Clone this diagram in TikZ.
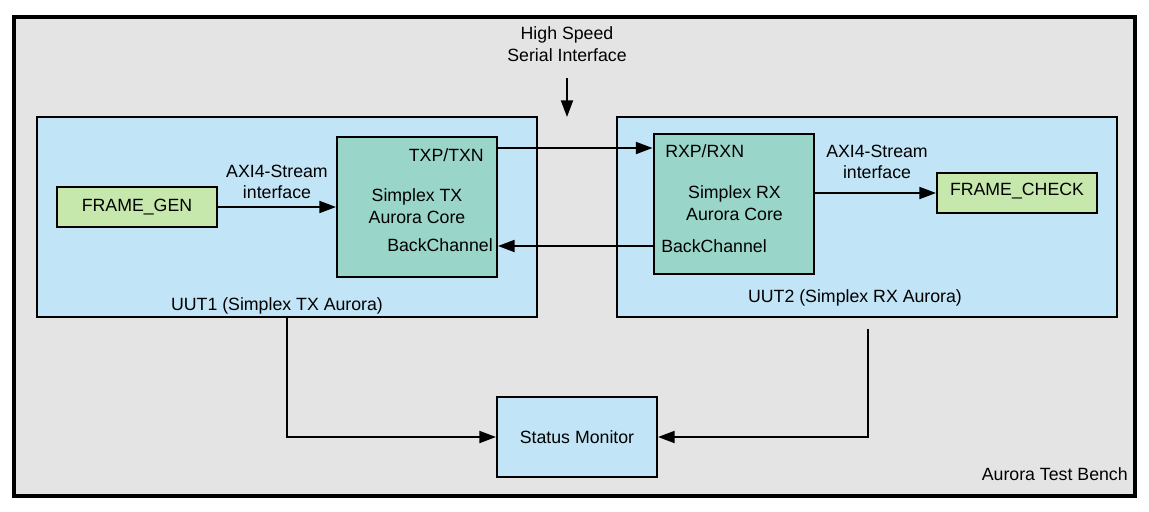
\documentclass[tikz,border=0pt]{standalone}
\usepackage{fontspec}
\setmainfont{Liberation Sans}
\usetikzlibrary{arrows.meta}
\definecolor{benchgray}{HTML}{E4E4E4}
\definecolor{uutblue}{HTML}{C1E4F6}
\definecolor{coreteal}{HTML}{9AD5CA}
\definecolor{framegreen}{HTML}{C7E8AC}
\tikzset{
  box/.style={draw=black, line width=1.5pt, inner sep=0pt},
  benchbox/.style={draw=black, line width=3pt, fill=benchgray, inner sep=0pt, minimum width=840.4pt, minimum height=359.6pt},
  uutbox/.style={box, fill=uutblue, minimum width=375pt, minimum height=150pt},
  corebox/.style={box, fill=coreteal, minimum width=120pt, minimum height=105pt},
  framebox/.style={box, fill=framegreen, minimum width=120pt, minimum height=30pt},
  monbox/.style={box, fill=uutblue, minimum width=120pt, minimum height=60pt},
  lbl/.style={inner sep=0pt, align=center},
  arr/.style={line width=1.5pt, -{Triangle[length=12.5pt,width=9pt]}}
}
\begin{document}
\begin{tikzpicture}[x=0.75pt, y=-0.75pt, font=\fontsize{13.3}{16.1}\selectfont]
\useasboundingbox (0,0) rectangle (1149,511);
% boxes
\node[benchbox] (bench) at (574.25,256.25) {};
\node[uutbox] (uut1) at (287,217) {};
\node[uutbox] (uut2) at (867,217) {};
\node[corebox] (txcore) at (417,207) {};
\node[corebox] (rxcore) at (733.5,203.5) {};
\node[framebox] (fgen) at (137,207) {FRAME\_GEN};
\node[framebox] (fcheck) at (1017,193) {};
\node[lbl] (fchecktxt) at (1017,191) {FRAME\_CHECK};
\node[monbox] (status) at (577,437) {Status Monitor};
% labels
\node[lbl] (hslbl) at (567,44) {High Speed\\Serial Interface};
\node[lbl] (axil) at (277,182) {AXI4-Stream\\interface};
\node[lbl] (axir) at (877,162) {AXI4-Stream\\interface};
\node[lbl, anchor=east] (txp) at (484,155) {TXP/TXN};
\node[lbl] (txname) at (417,206) {Simplex TX\\Aurora Core};
\node[lbl, anchor=east] (bctx) at (493,245) {BackChannel};
\node[lbl, anchor=west] (rxp) at (665,151) {RXP/RXN};
\node[lbl] (rxname) at (734.5,203) {Simplex RX\\Aurora Core};
\node[lbl, anchor=west] (bcrx) at (661,246) {BackChannel};
\node[lbl] (uut1lbl) at (277,306) {UUT1 (Simplex TX Aurora)};
\node[lbl] (uut2lbl) at (855,298) {UUT2 (Simplex RX Aurora)};
\node[lbl, anchor=east] (benchlbl) at (1128,474) {Aurora Test Bench};
% helper coordinates
\coordinate (txlvl) at (0,148);
\coordinate (bclvl) at (0,246);
\coordinate (hsA) at (567,78);
\coordinate (hsB) at (567,117);
\coordinate (u2a) at (868,329);
% connectors
\draw[arr] (hsA) -- (hsB);
\draw[arr] (fgen.east) -- (txcore.west);
\draw[arr] (rxcore.east |- fcheck) -- (fcheck.west);
\draw[arr] (txcore.east |- txlvl) -- (rxcore.west |- txlvl);
\draw[arr] (rxcore.west |- bclvl) -- (txcore.east |- bclvl);
\draw[arr] (uut1.south) |- (status.west);
\draw[arr] (u2a) |- (status.east);
\end{tikzpicture}
\end{document}
